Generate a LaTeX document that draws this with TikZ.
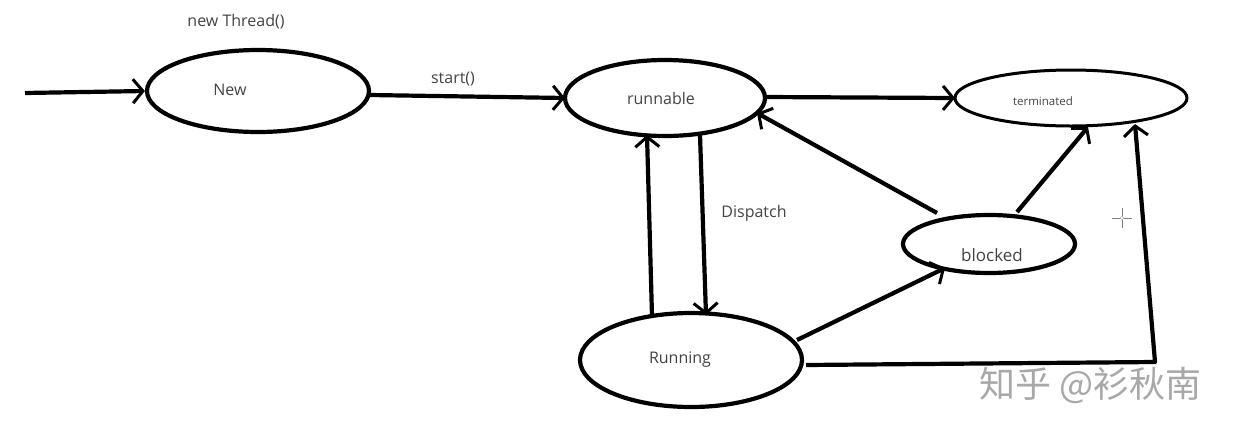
\documentclass[tikz,border=0pt]{standalone}
\usepackage{fontspec}
\setmainfont{Open Sans}
\newfontfamily\cjk{Noto Sans CJK SC}
\usetikzlibrary{arrows.meta,shapes.geometric}
\definecolor{txt}{HTML}{444444}
\definecolor{wm}{HTML}{A8A8A8}
\tikzset{
  state/.style={draw=black, line width=4.2pt, ellipse, inner sep=0pt, text=txt, font=\fontsize{16}{19}\selectfont},
  conn/.style={line width=4.2pt, -{Straight Barb[length=10pt,width=24pt,line width=3pt]}},
  lbl/.style={text=txt, font=\fontsize{16}{19}\selectfont, inner sep=0pt},
}
\begin{document}
\begin{tikzpicture}[x=1pt,y=-1pt]
\useasboundingbox[fill=white] (0,0) rectangle (1240,437);
% states
\node[state, minimum width=222pt, minimum height=82pt] (new) at (258,91) {};
\node[lbl] at (230,90) {New};
\node[state, minimum width=200pt, minimum height=76pt] (run) at (665,98) {};
\node[lbl] at (661,98) {runnable};
\node[state, minimum width=232pt, minimum height=56pt, line width=3pt] (term) at (1071,98) {};
\node[lbl, font=\fontsize{11.5}{13}\selectfont] at (1043,101) {terminated};
\node[state, minimum width=172pt, minimum height=58pt] (blk) at (989,244) {};
\node[lbl, font=\fontsize{17}{20}\selectfont] at (992,255) {blocked};
\node[state, minimum width=222pt, minimum height=94pt] (rng) at (691,360) {};
\node[lbl] at (680,360) {Running};
% labels
\node[lbl] (lnew) at (236,22) {new Thread()};
\node[lbl] (lstart) at (453,79) {start()};
\node[lbl] (ldisp) at (754,213) {Dispatch};
% coordinates
\coordinate (src) at (25,93);
\coordinate (newE) at (370,95);
\coordinate (runW) at (565,98);
\coordinate (runE) at (765,97);
\coordinate (termW) at (955,98);
\coordinate (runB1) at (647,135);
\coordinate (rngT1) at (652,316);
\coordinate (runB2) at (700,135);
\coordinate (rngT2) at (706,315);
\coordinate (rngNE) at (797,340);
\coordinate (blkSW) at (945,268);
\coordinate (blkNW) at (937,213);
\coordinate (runSE) at (757,113);
\coordinate (blkNE) at (1017,212);
\coordinate (termS1) at (1088,127);
\coordinate (rngE) at (806,365);
\coordinate (corner) at (1155,362);
\coordinate (termS2) at (1135,124);
% connectors
\draw[conn] (src) -- (new.west);
\draw[conn] (newE) -- (runW);
\draw[conn] (runE) -- (termW);
\draw[conn] (rngT1) -- (runB1);
\draw[conn] (runB2) -- (rngT2);
\draw[conn] (rngNE) -- (blkSW);
\draw[conn] (blkNW) -- (runSE);
\draw[conn] (blkNE) -- (termS1);
\draw[conn, line join=round] (rngE) -- (corner) -- (termS2);
% cursor mark
\coordinate (cur) at (1122,218);
\draw[gray, line width=0.8pt] ([xshift=-10pt]cur) -- ([xshift=10pt]cur) ([yshift=-10pt]cur) -- ([yshift=10pt]cur);
\draw[gray!60, fill=white, line width=0.5pt] (cur) circle (1.8pt);
% watermark
\node[text=wm, font=\cjk\fontsize{36}{40}\selectfont, inner sep=0pt, anchor=west] (wmk) at (979,385) {知乎 @衫秋南};
\end{tikzpicture}
\end{document}
